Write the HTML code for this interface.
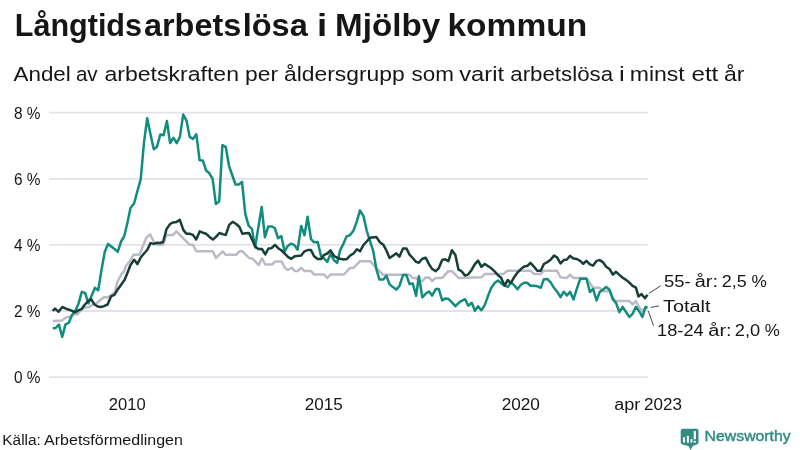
<!DOCTYPE html>
<html><head><meta charset="utf-8"><title>Långtidsarbetslösa i Mjölby kommun</title>
<style>
html,body{margin:0;padding:0;background:#fff;}
body{width:800px;height:450px;overflow:hidden;font-family:"Liberation Sans",sans-serif;}
svg{display:block;will-change:transform;opacity:0.999;font-family:"Liberation Sans",sans-serif;}
text{fill:#161616;}
</style></head><body>
<svg width="800" height="450" viewBox="0 0 800 450">
<rect width="800" height="450" fill="#ffffff"/>
<text x="14.74" y="35.6" font-size="30.5" font-weight="bold" textLength="127.30" lengthAdjust="spacingAndGlyphs">Långtids</text><text x="143.91" y="35.6" font-size="30.5" font-weight="bold" textLength="97.49" lengthAdjust="spacingAndGlyphs">arbets</text><text x="242.71" y="35.6" font-size="30.5" font-weight="bold" textLength="65.11" lengthAdjust="spacingAndGlyphs">lösa</text><text x="316.91" y="35.6" font-size="30.5" font-weight="bold" textLength="10.18" lengthAdjust="spacingAndGlyphs">i</text><text x="335.12" y="35.6" font-size="30.5" font-weight="bold" textLength="105.11" lengthAdjust="spacingAndGlyphs">Mjölby</text><text x="447.46" y="35.6" font-size="30.5" font-weight="bold" textLength="139.81" lengthAdjust="spacingAndGlyphs">kommun</text>
<text x="13.53" y="81.0" font-size="20.5" textLength="57.30" lengthAdjust="spacingAndGlyphs">Andel</text><text x="75.91" y="81.0" font-size="20.5" textLength="21.78" lengthAdjust="spacingAndGlyphs">av</text><text x="104.40" y="81.0" font-size="20.5" textLength="134.63" lengthAdjust="spacingAndGlyphs">arbetskraften</text><text x="245.05" y="81.0" font-size="20.5" textLength="33.02" lengthAdjust="spacingAndGlyphs">per</text><text x="283.96" y="81.0" font-size="20.5" textLength="120.70" lengthAdjust="spacingAndGlyphs">åldersgrupp</text><text x="411.59" y="81.0" font-size="20.5" textLength="42.40" lengthAdjust="spacingAndGlyphs">som</text><text x="459.26" y="81.0" font-size="20.5" textLength="44.81" lengthAdjust="spacingAndGlyphs">varit</text><text x="510.34" y="81.0" font-size="20.5" textLength="102.70" lengthAdjust="spacingAndGlyphs">arbetslösa</text><text x="619.09" y="81.0" font-size="20.5" textLength="5.77" lengthAdjust="spacingAndGlyphs">i</text><text x="629.75" y="81.0" font-size="20.5" textLength="55.01" lengthAdjust="spacingAndGlyphs">minst</text><text x="691.46" y="81.0" font-size="20.5" textLength="26.89" lengthAdjust="spacingAndGlyphs">ett</text><text x="723.92" y="81.0" font-size="20.5" textLength="20.50" lengthAdjust="spacingAndGlyphs">år</text>
<line x1="49.3" x2="648" y1="112.7" y2="112.7" stroke="#e3e2ea" stroke-width="1.8"/><line x1="49.3" x2="648" y1="178.8" y2="178.8" stroke="#e3e2ea" stroke-width="1.8"/><line x1="49.3" x2="648" y1="244.9" y2="244.9" stroke="#e3e2ea" stroke-width="1.8"/><line x1="49.3" x2="648" y1="311.0" y2="311.0" stroke="#e3e2ea" stroke-width="1.8"/><line x1="49.3" x2="648" y1="377.1" y2="377.1" stroke="#e3e2ea" stroke-width="1.8"/>
<text x="14" y="118.6" font-size="16" textLength="26.5" lengthAdjust="spacingAndGlyphs">8 %</text><text x="14" y="184.7" font-size="16" textLength="26.5" lengthAdjust="spacingAndGlyphs">6 %</text><text x="14" y="250.8" font-size="16" textLength="26.5" lengthAdjust="spacingAndGlyphs">4 %</text><text x="14" y="316.9" font-size="16" textLength="26.5" lengthAdjust="spacingAndGlyphs">2 %</text><text x="14" y="383.0" font-size="16" textLength="26.5" lengthAdjust="spacingAndGlyphs">0 %</text>
<text x="108.87" y="409.7" font-size="16" textLength="36.80" lengthAdjust="spacingAndGlyphs">2010</text><text x="304.72" y="409.7" font-size="16" textLength="37.97" lengthAdjust="spacingAndGlyphs">2015</text><text x="501.69" y="409.7" font-size="16" textLength="38.24" lengthAdjust="spacingAndGlyphs">2020</text><text x="614.24" y="409.7" font-size="16" textLength="26.10" lengthAdjust="spacingAndGlyphs">apr</text><text x="644.12" y="409.7" font-size="16" textLength="37.82" lengthAdjust="spacingAndGlyphs">2023</text>
<g fill="none" stroke-linejoin="round" stroke-linecap="butt" stroke-width="2.5">
<polyline stroke="#bdbac8" points="52.7,320.9 62.0,320.6 65.9,317.4 69.8,316.7 73.7,314.3 77.5,314.3 81.4,309.7 85.3,307.3 88.7,307.3 92.3,305.0 96.2,303.4 100.1,300.3 104.0,297.2 107.9,297.2 111.8,294.9 114.9,291.8 117.2,282.4 121.1,274.7 124.2,271.2 126.1,265.7 130.0,261.0 133.6,254.8 139.3,254.8 143.2,245.4 146.3,237.7 150.2,234.5 154.1,242.3 157.2,244.7 163.1,244.7 166.5,234.9 173.2,234.9 176.3,231.4 189.5,244.7 193.0,244.7 196.2,251.3 212.9,251.3 216.0,257.9 222.7,251.3 225.8,254.8 236.2,254.8 239.3,251.3 242.4,251.3 249.0,257.9 252.5,258.7 258.8,265.0 261.9,258.3 265.3,264.5 271.9,264.5 275.4,261.4 281.6,261.4 284.8,267.7 287.9,270.0 291.8,267.7 294.7,271.0 297.8,271.0 301.2,267.9 304.5,271.0 311.0,271.0 314.1,274.6 324.2,274.6 327.3,278.0 330.5,274.6 343.7,274.6 350.2,267.9 353.5,267.9 360.0,261.2 370.1,261.2 376.3,267.9 383.1,274.8 409.5,274.8 412.7,277.9 416.1,277.9 418.9,281.3 422.3,281.3 425.6,277.4 429.0,277.4 432.1,281.0 435.7,277.9 442.2,277.9 448.4,271.2 451.9,271.2 458.5,277.9 481.4,277.3 484.8,274.1 503.4,274.1 507.3,270.7 530.5,270.7 534.1,274.1 540.8,274.1 543.9,270.7 557.1,270.7 560.5,277.3 566.7,278.0 570.1,274.6 573.5,278.0 586.4,278.0 593.1,287.8 599.7,287.8 602.8,291.2 609.5,291.2 612.9,297.7 616.0,301.0 629.5,301.0 632.6,304.4 635.9,301.0 639.3,307.5 642.4,311.0 645.5,308.0 647.5,307.6"/>
<polyline stroke="#118c7e" points="52.7,328.3 55.7,327.9 58.9,324.7 62.2,336.9 65.5,324.4 68.7,322.9 72.0,315.1 75.3,310.7 78.6,303.4 81.8,291.8 85.1,293.0 88.4,303.4 91.6,295.7 94.9,287.9 98.2,290.2 101.5,270.0 104.7,252.0 108.0,243.9 111.3,246.5 114.5,249.0 117.8,251.7 121.1,241.5 124.3,236.0 127.6,222.0 130.5,208.0 134.2,203.3 137.4,191.0 140.7,179.4 144.0,142.3 147.2,118.2 150.5,134.5 153.8,149.3 157.0,146.7 160.3,134.5 163.6,135.3 166.9,121.0 170.1,143.1 173.4,137.7 176.7,143.1 179.9,136.9 183.2,114.6 186.5,120.6 189.7,136.9 193.0,138.9 196.3,134.2 199.6,160.2 202.8,160.4 206.1,170.5 209.4,173.3 212.6,178.8 215.9,204.1 219.2,201.3 222.4,145.2 225.7,146.8 229.0,165.8 232.2,175.0 235.5,184.5 238.8,184.5 242.0,181.9 245.3,213.8 248.6,225.7 251.9,228.8 255.1,247.4 258.4,227.0 261.7,207.0 264.9,237.3 268.2,226.4 271.5,226.4 274.8,228.0 278.0,238.1 281.3,236.1 284.6,251.3 287.8,245.9 291.1,243.5 294.4,245.1 297.6,249.8 301.2,226.0 304.5,235.3 307.6,216.7 311.0,239.2 314.1,242.3 317.7,241.9 321.1,256.3 324.2,258.7 327.3,261.8 330.5,254.0 334.0,260.2 337.1,262.9 340.2,250.1 343.7,243.1 346.8,236.1 349.9,235.3 353.5,230.5 356.6,222.1 360.0,210.4 363.4,215.9 366.7,230.5 370.1,241.5 373.2,250.9 376.3,268.8 379.4,279.5 383.3,279.5 386.4,275.7 389.6,284.4 392.9,287.1 396.3,289.6 399.4,286.0 403.0,275.1 406.4,275.1 409.5,284.0 412.7,283.4 416.1,295.8 418.9,276.2 422.3,297.3 425.6,293.8 429.0,291.4 432.1,295.6 435.7,289.1 438.8,289.1 442.2,300.5 445.3,298.4 448.4,298.9 451.9,302.3 455.4,306.2 458.5,303.1 461.6,300.8 465.1,299.2 468.3,305.7 471.8,302.8 474.9,310.9 478.0,306.2 481.4,310.3 484.8,304.9 487.9,296.3 491.3,287.8 494.6,283.1 498.0,280.5 501.1,283.1 504.5,285.4 507.8,287.0 510.9,282.3 514.3,285.4 517.4,289.3 520.9,284.7 524.1,282.8 527.2,282.8 530.5,285.7 534.1,285.7 537.2,286.2 540.8,287.8 543.9,279.2 547.3,278.9 550.6,282.3 554.0,287.8 557.1,291.7 560.5,297.1 563.8,291.7 566.9,295.5 570.1,291.7 573.5,299.5 576.8,288.9 580.2,278.8 583.3,278.8 586.4,278.8 589.9,292.0 593.1,288.9 596.5,300.5 599.7,292.0 602.8,289.7 606.2,287.0 609.5,289.7 612.9,299.5 616.0,302.9 619.4,312.2 622.7,306.8 626.1,312.2 629.5,316.9 632.6,313.8 635.9,306.8 639.3,311.4 642.4,316.9 645.5,307.0 647.5,307.6"/>
<polyline stroke="#163f37" points="52.7,310.9 55.0,308.6 58.6,311.7 62.3,307.0 65.9,308.6 69.0,309.7 72.1,310.9 75.5,312.3 78.3,310.4 81.4,309.2 84.5,305.0 88.1,301.1 91.2,299.2 94.2,304.2 97.8,306.5 100.9,307.0 104.0,306.1 107.6,304.5 111.0,296.4 114.6,294.6 117.7,289.4 121.1,284.8 124.5,280.1 127.6,272.5 130.5,265.0 134.2,259.7 137.4,264.1 140.7,257.5 144.0,253.5 147.2,250.0 150.5,243.1 153.8,243.9 157.0,242.8 160.3,243.0 163.1,242.0 166.5,229.1 170.1,224.0 173.2,222.4 176.3,222.1 179.8,219.8 183.3,229.9 186.4,233.8 189.5,233.8 193.0,234.9 196.2,239.5 199.7,231.4 202.8,232.7 206.2,233.8 209.5,236.9 212.9,239.5 216.0,236.9 219.4,233.0 222.7,234.2 225.8,234.9 229.2,224.9 232.6,221.8 236.2,224.0 239.3,226.8 242.4,233.8 245.8,233.3 249.0,233.0 252.1,239.7 255.5,246.7 258.3,249.0 261.9,249.0 265.3,254.4 268.4,248.5 271.5,248.2 275.0,244.8 278.2,248.2 281.6,250.5 284.8,253.7 287.9,256.8 291.3,258.8 294.7,256.3 301.2,255.5 304.5,251.3 307.6,250.1 311.0,250.1 314.1,256.3 317.7,259.1 321.1,259.1 324.2,254.8 327.3,253.5 330.5,250.4 334.0,256.0 337.1,257.6 340.2,258.7 343.7,259.4 346.8,259.1 350.2,255.5 353.5,253.5 356.9,249.3 360.0,251.3 363.4,245.1 366.7,241.5 370.1,237.7 376.3,236.9 379.9,242.3 383.3,244.7 386.4,250.5 389.6,258.0 392.9,255.7 396.3,253.3 399.4,256.7 403.0,248.4 406.4,248.4 409.5,254.6 412.7,258.0 416.1,261.9 418.9,262.7 422.3,258.8 425.6,257.7 429.0,264.2 432.1,268.9 435.7,271.2 438.8,268.1 442.2,259.9 445.3,259.2 448.4,261.1 451.9,250.2 455.4,254.9 458.5,269.7 461.6,271.2 465.1,275.6 468.3,274.3 471.8,269.7 474.7,264.4 478.1,260.6 481.4,266.8 484.8,264.0 487.9,266.0 491.3,268.3 494.6,271.4 498.0,275.3 501.1,277.7 504.5,285.7 507.8,280.0 510.9,283.1 514.3,276.9 517.4,272.7 520.9,269.1 524.1,266.5 527.2,266.0 530.5,262.9 534.1,266.8 537.2,270.7 540.8,270.7 543.9,264.0 547.3,262.1 550.6,259.8 554.0,255.6 557.1,257.4 560.5,263.4 563.8,260.1 566.9,259.5 570.1,255.9 573.5,258.6 576.8,259.0 580.2,260.9 583.3,263.7 586.4,260.9 589.9,264.3 593.1,265.6 596.5,260.9 599.7,260.1 602.8,262.1 606.2,266.8 609.5,269.0 612.9,274.6 616.0,271.8 619.4,274.9 622.7,277.7 626.1,279.9 629.5,282.7 632.6,285.8 635.9,287.6 638.4,296.4 641.5,294.1 645.0,298.2 647.4,294.7"/>
</g>
<g stroke="#333" stroke-width="0.9" fill="none">
<line x1="648.8" y1="293.4" x2="660.7" y2="285.8"/>
<line x1="650.5" y1="307.5" x2="658.9" y2="305.9"/>
<line x1="648.2" y1="310.7" x2="653.6" y2="325.8"/>
</g>
<text x="664.12" y="287" font-size="16" textLength="26.60" lengthAdjust="spacingAndGlyphs">55-</text><text x="694.72" y="287" font-size="16" textLength="23.18" lengthAdjust="spacingAndGlyphs">år:</text><text x="721.89" y="287" font-size="16" textLength="24.89" lengthAdjust="spacingAndGlyphs">2,5</text><text x="751.58" y="287" font-size="16" textLength="15.36" lengthAdjust="spacingAndGlyphs">%</text>
<text x="662.96" y="311.6" font-size="16" textLength="47.59" lengthAdjust="spacingAndGlyphs">Totalt</text>
<text x="657.13" y="336" font-size="16" textLength="46.52" lengthAdjust="spacingAndGlyphs">18-24</text><text x="708.29" y="336" font-size="16" textLength="23.39" lengthAdjust="spacingAndGlyphs">år:</text><text x="734.82" y="336" font-size="16" textLength="25.37" lengthAdjust="spacingAndGlyphs">2,0</text><text x="764.77" y="336" font-size="16" textLength="15.01" lengthAdjust="spacingAndGlyphs">%</text>
<text x="2.29" y="445" font-size="14" textLength="38.61" lengthAdjust="spacingAndGlyphs">Källa:</text><text x="44.14" y="445" font-size="14" textLength="138.73" lengthAdjust="spacingAndGlyphs">Arbetsförmedlingen</text>
<g>
<path d="M682.7 428.7 H696.5 Q698.5 428.7 698.5 430.5 V442.6 Q698.5 444.3 696.8 444.6 L692.8 445.9 L690.6 450 L688.4 445.9 L682.4 444.6 Q680.7 444.3 680.7 442.6 V430.5 Q680.7 428.7 682.7 428.7 Z" fill="#328c82"/>
<g fill="#3a6c8c" fill-opacity="0.45">
<polygon points="685,437.6 686.6,439.2 686.6,442.6 685,442.6"/>
<polygon points="688.9,436.3 690.4,437.8 690.4,442.6 688.9,442.6"/>
<polygon points="692.4,439.5 693.6,440.7 693.6,442.6 692.4,442.6"/>
<polygon points="695.9,431.5 697.2,432.8 697.2,440.4 695.9,439.3"/>
</g>
<g fill="#fff">
<rect x="683.1" y="437.2" width="1.9" height="5.4"/>
<rect x="686.8" y="435.9" width="2.1" height="6.8"/>
<rect x="690.5" y="439.1" width="1.9" height="3.5"/>
<rect x="693.7" y="431.1" width="2.2" height="8.2"/>
<rect x="693.7" y="440.9" width="2.2" height="1.7"/>
</g>
<text stroke="#328c82" stroke-width="0.45" x="704.60" y="441.2" font-size="14.4" style="fill:#328c82" textLength="86.11" lengthAdjust="spacingAndGlyphs">Newsworthy</text>
</g>
</svg>
</body></html>
